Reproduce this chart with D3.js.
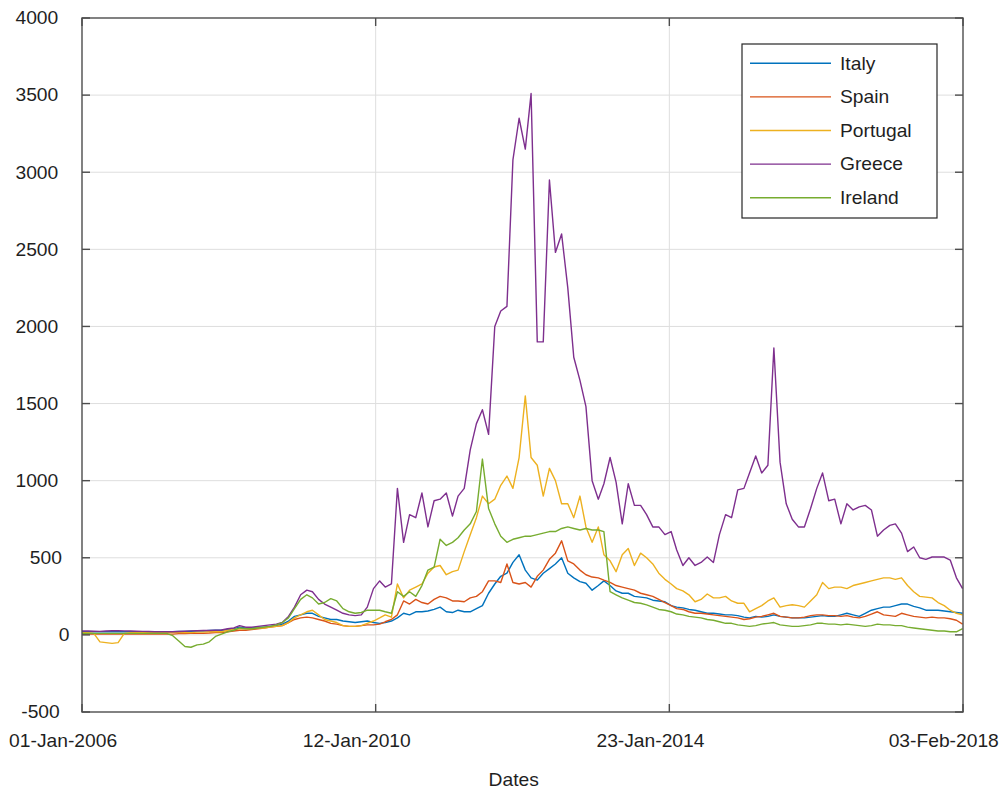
<!DOCTYPE html>
<html>
<head>
<meta charset="utf-8">
<script src="https://cdn.jsdelivr.net/npm/d3@7/dist/d3.min.js"></script>
<style>
  html, body { margin: 0; padding: 0; background: #ffffff; }
  svg { display: block; }
  text { font-family: "Liberation Sans", Arial, Helvetica, sans-serif; fill: #1f1f1f; }
</style>
</head>
<body>
<svg id="chart" width="1003" height="792"></svg>
<script>
// ---------------- DATA ----------------
const seriesNames = ["Italy", "Spain", "Portugal", "Greece", "Ireland"];
const seriesColors = ["#0072BD", "#D95319", "#EDB120", "#7E2F8E", "#77AC30"];

// monthly observations, Jan 2006 .. Feb 2018 (146 months)
const startMonth = Date.UTC(2006, 0, 1);
const endMonth = Date.UTC(2018, 1, 2);

const xTickDates = ["2006-01-01", "2010-01-12", "2014-01-23", "2018-02-03"];
const xTickLabels = ["01-Jan-2006", "12-Jan-2010", "23-Jan-2014", "03-Feb-2018"];
const yTicks = [-500, 0, 500, 1000, 1500, 2000, 2500, 3000, 3500, 4000];
const xAxisTitle = "Dates";

const italy = [
  20,20,20,20,20,20,20,20,20,20,20,20,
  20,20,20,20,22,22,24,25,25,28,30,30,
  35,40,50,45,45,50,50,55,60,70,90,120,
  130,140,140,120,110,100,100,90,85,80,85,90,
  80,75,80,90,110,140,130,150,150,155,165,180,
  150,145,160,150,150,170,190,270,330,380,400,470,
  520,420,370,355,400,430,460,500,400,370,345,335,
  290,320,350,320,285,270,270,250,245,240,225,220,
  215,190,180,175,165,160,150,140,140,135,130,130,
  125,115,110,120,115,120,130,120,115,110,110,110,
  115,120,125,120,120,130,140,130,120,140,160,170,
  180,180,190,200,200,185,175,160,160,160,155,150,
  145,140
];
const spain = [
  5,5,5,5,5,5,5,5,5,5,5,5,
  5,5,5,5,8,8,10,10,10,12,15,15,
  20,25,30,30,35,40,45,50,55,60,80,100,
  110,115,110,100,90,75,70,60,55,55,60,65,
  65,70,85,100,130,220,200,230,210,200,230,250,
  240,220,220,215,240,250,280,350,350,340,460,340,
  330,340,310,380,420,490,530,610,480,460,420,390,
  375,370,355,340,320,310,300,290,270,260,250,230,
  210,190,170,165,150,140,140,135,130,125,120,115,
  110,100,105,115,120,130,140,120,115,110,110,115,
  125,130,130,125,125,120,125,115,110,120,135,150,
  130,125,120,140,130,120,115,110,115,110,110,105,
  95,70
];
const portugal = [
  15,15,10,-45,-50,-55,-50,10,15,15,15,15,
  15,15,15,15,15,15,15,18,18,20,20,20,
  30,35,40,40,40,45,45,50,55,60,80,110,
  130,150,160,130,100,90,80,60,55,55,60,75,
  90,110,130,115,330,240,290,310,330,400,440,450,
  390,410,420,540,650,760,900,850,880,970,1030,950,
  1150,1550,1150,1100,900,1080,1000,850,850,760,900,700,
  600,700,520,480,410,520,560,450,530,500,460,400,
  360,330,300,285,260,215,230,265,240,240,250,220,
  205,205,150,170,190,220,240,180,190,195,190,180,
  220,260,340,300,310,310,300,320,330,340,350,360,
  370,370,360,370,320,280,250,245,240,210,190,160,
  140,130
];
const greece = [
  25,25,24,23,25,27,27,26,25,24,23,22,
  20,20,20,20,22,24,26,27,28,28,30,32,
  40,45,60,50,50,55,60,65,70,80,120,180,
  260,290,280,230,200,180,160,140,130,125,130,180,
  300,350,310,330,950,600,780,760,920,700,870,880,
  920,770,900,950,1200,1370,1460,1300,2000,2100,2130,3080,
  3350,3150,3510,1900,1900,2950,2480,2600,2250,1800,1650,1480,
  1000,880,980,1150,990,720,980,840,840,780,700,700,
  650,670,550,450,500,450,470,505,470,650,780,760,
  940,950,1050,1160,1050,1100,1860,1120,850,750,700,700,
  820,950,1050,870,880,720,850,810,830,840,810,640,
  680,710,720,660,540,570,500,490,505,505,505,485,
  370,300
];
const ireland = [
  10,10,10,10,10,10,10,10,10,10,10,10,
  10,10,10,-5,-40,-75,-80,-65,-60,-45,-10,5,
  20,30,45,40,40,45,50,55,65,80,110,170,
  230,260,240,200,210,235,220,170,150,140,145,160,
  160,160,150,140,280,250,280,250,320,420,440,620,
  580,600,630,680,720,800,1140,820,720,640,600,620,
  630,640,640,650,660,670,670,690,700,690,680,690,
  680,680,670,280,260,240,225,210,205,195,180,165,
  160,150,135,130,120,115,110,100,95,85,75,75,
  65,60,55,60,70,75,80,65,60,55,55,60,
  65,75,75,70,70,65,70,65,60,55,60,70,
  65,65,60,60,50,45,40,35,30,25,25,20,
  20,40
];
const seriesValues = [italy, spain, portugal, greece, ireland];

// ---------------- LAYOUT ----------------
const plot = { left: 82, right: 963, top: 18, bottom: 712 };
const fontSize = 17.5, xStretch = 1.1;
const spread = 1.35; // label offset factor used by the original renderer
const svg = d3.select("#chart");

const months = d3.utcMonth.range(new Date(startMonth), new Date(endMonth));

const x = d3.scaleUtc()
  .domain([new Date(Date.UTC(2006, 0, 1)), new Date(Date.UTC(2018, 1, 3))])
  .range([plot.left, plot.right]);
const y = d3.scaleLinear().domain([-500, 4000]).range([plot.bottom, plot.top]);

const xTicks = xTickDates.map(s => new Date(s + "T00:00:00Z"));

function label(g, px, py, txt, baseline) {
  const grp = g.append("g").attr("transform", `translate(${px},${py}) scale(${xStretch},1)`);
  const t = grp.append("text").attr("x", 0).attr("y", 0)
    .attr("font-size", fontSize).attr("text-anchor", "start").text(txt);
  if (baseline) t.attr("dy", baseline);
  return { grp, t, w: t.node().getComputedTextLength() * xStretch };
}
function place(l, px, py) {
  l.grp.attr("transform", `translate(${px},${py}) scale(${xStretch},1)`);
}

// grid
const grid = svg.append("g");
yTicks.filter(v => v > -500 && v < 4000).forEach(v => {
  grid.append("line").attr("x1", plot.left).attr("x2", plot.right)
    .attr("y1", y(v)).attr("y2", y(v)).attr("stroke", "#dedede").attr("stroke-width", 1);
});
xTicks.slice(1, -1).forEach(d => {
  grid.append("line").attr("x1", x(d)).attr("x2", x(d))
    .attr("y1", plot.top).attr("y2", plot.bottom).attr("stroke", "#dedede").attr("stroke-width", 1);
});

// series
const line = d3.line().x((d, i) => x(months[i])).y(d => y(d));
seriesValues.forEach((vals, k) => {
  svg.append("path").datum(vals).attr("d", line)
    .attr("fill", "none").attr("stroke", seriesColors[k])
    .attr("stroke-width", 1.4).attr("stroke-linejoin", "round");
});

// axes box and ticks
const ax = svg.append("g");
ax.append("rect").attr("x", plot.left).attr("y", plot.top)
  .attr("width", plot.right - plot.left).attr("height", plot.bottom - plot.top)
  .attr("fill", "none").attr("stroke", "#4d4d4d").attr("stroke-width", 1.4);
const tl = 8;
yTicks.forEach(v => {
  ax.append("line").attr("x1", plot.left).attr("x2", plot.left + tl).attr("y1", y(v)).attr("y2", y(v))
    .attr("stroke", "#4d4d4d").attr("stroke-width", 1.4);
  ax.append("line").attr("x1", plot.right - tl).attr("x2", plot.right).attr("y1", y(v)).attr("y2", y(v))
    .attr("stroke", "#4d4d4d").attr("stroke-width", 1.4);
  const l = label(ax, 0, y(v), String(v), "0.36em");
  place(l, 73.2 - spread * l.w, y(v));
});
xTicks.forEach((d, i) => {
  ax.append("line").attr("x1", x(d)).attr("x2", x(d)).attr("y1", plot.bottom).attr("y2", plot.bottom - tl)
    .attr("stroke", "#4d4d4d").attr("stroke-width", 1.4);
  ax.append("line").attr("x1", x(d)).attr("x2", x(d)).attr("y1", plot.top).attr("y2", plot.top + tl)
    .attr("stroke", "#4d4d4d").attr("stroke-width", 1.4);
  const l = label(ax, 0, 747, xTickLabels[i]);
  place(l, x(d) - spread * l.w / 2, 747);
});
{
  const l = label(ax, 0, 786, xAxisTitle);
  place(l, (plot.left + plot.right) / 2 - spread * l.w / 2, 786);
}

// legend
const lg = svg.append("g");
lg.append("rect").attr("x", 742).attr("y", 44).attr("width", 195).attr("height", 174)
  .attr("fill", "#ffffff").attr("stroke", "#262626").attr("stroke-width", 1.2);
seriesNames.forEach((n, i) => {
  const ly = 63.3 + i * 33.6;
  lg.append("line").attr("x1", 750).attr("x2", 831).attr("y1", ly).attr("y2", ly)
    .attr("stroke", seriesColors[i]).attr("stroke-width", 1.4);
  label(lg, 840, ly, n, "0.36em");
});
</script>
</body>
</html>
